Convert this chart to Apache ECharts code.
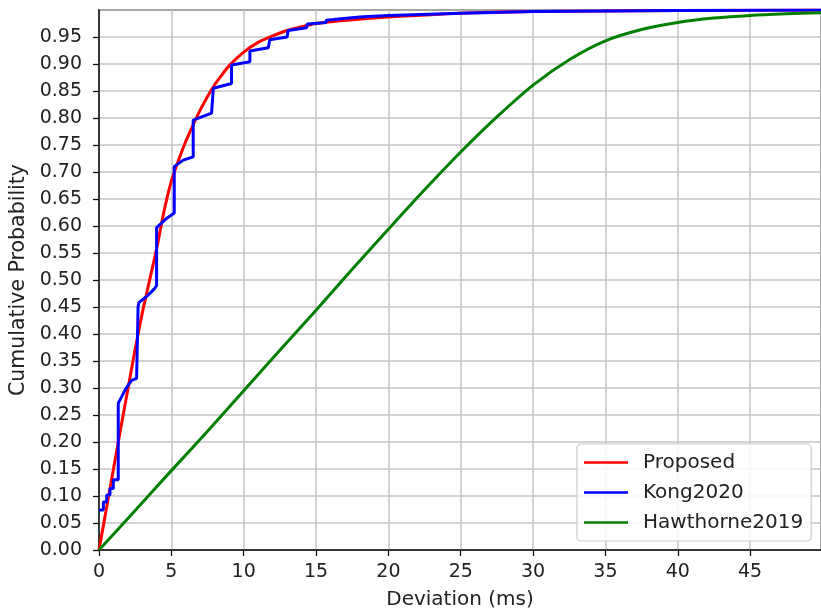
<!DOCTYPE html>
<html><head><meta charset="utf-8">
<script src="https://cdn.jsdelivr.net/npm/echarts@6/dist/echarts.min.js"></script>
<style>html,body{margin:0;padding:0;background:#fff}#c{width:821px;height:611px}</style>
</head><body><div id="c"></div>
<script>
// ---- data ----
const seriesNames = ['Proposed', 'Kong2020', 'Hawthorne2019'];
const yTickLabels = ['0.00','0.05','0.10','0.15','0.20','0.25','0.30','0.35','0.40','0.45','0.50','0.55','0.60','0.65','0.70','0.75','0.80','0.85','0.90','0.95'];
const xTickLabels = ['0','5','10','15','20','25','30','35','40','45'];

const proposedX = [0, 0.5, 1, 1.5, 2, 2.5, 3, 3.5, 4, 4.5, 5, 5.5, 6, 6.5, 7, 7.5, 8, 8.5, 9, 10, 11, 12, 13, 14, 15, 17.5, 20, 25, 30, 35, 40, 49.9];
const proposedY = [0, 0.075, 0.15, 0.225, 0.298, 0.372, 0.44, 0.50, 0.56, 0.628, 0.683, 0.722, 0.757, 0.787, 0.815, 0.84, 0.862, 0.88, 0.897, 0.922, 0.94, 0.952, 0.962, 0.969, 0.975, 0.982, 0.987, 0.994, 0.997, 0.998, 0.999, 1.0];

const kongX = [0, 0.3, 0.3, 0.53, 0.53, 0.76, 0.76, 0.99, 0.99, 1.33, 1.33, 1.57, 1.8, 2.03, 2.26, 2.6, 2.7, 2.7, 2.75, 3.4, 3.87, 3.98, 3.98, 4.67, 5.2, 5.2, 5.82, 6.51, 6.51, 7.78, 7.9, 7.9, 9.16, 9.16, 10.43, 10.43, 11.7, 11.8, 11.8, 13.0, 13.07, 13.07, 14.34, 14.4, 14.4, 15.7, 15.7, 18, 20, 25, 30, 40, 49.9];
const kongY = [0.074, 0.074, 0.089, 0.089, 0.102, 0.102, 0.114, 0.114, 0.13, 0.13, 0.272, 0.284, 0.296, 0.306, 0.314, 0.318, 0.32, 0.45, 0.458, 0.472, 0.485, 0.49, 0.597, 0.614, 0.624, 0.71, 0.722, 0.728, 0.796, 0.809, 0.812, 0.855, 0.864, 0.898, 0.904, 0.924, 0.93, 0.932, 0.945, 0.95, 0.951, 0.962, 0.967, 0.968, 0.974, 0.977, 0.981, 0.987, 0.99, 0.994, 0.997, 0.999, 1.0];

const hawX = [0, 2.5, 5, 7.5, 10, 12.5, 15, 17.5, 20, 22.5, 25, 27.5, 30, 32.5, 35, 37.5, 40, 42.5, 45, 47.5, 49.9];
const hawY = [0, 0.073, 0.147, 0.22, 0.295, 0.37, 0.444, 0.52, 0.594, 0.667, 0.737, 0.802, 0.861, 0.908, 0.943, 0.964, 0.977, 0.985, 0.990, 0.993, 0.995];

const colors = ['#ff0000', '#0000ff', '#008000'];

function pairs(xs, ys) { return xs.map((x, i) => [x, ys[i]]); }

const FONT = 'DejaVu Sans';
const chart = echarts.init(document.getElementById('c'), null, {renderer: 'canvas'});
chart.setOption({
  animation: false,
  backgroundColor: '#fff',
  grid: {left: 99, top: 10, right: 0, bottom: 61, outerBoundsMode: 'none', containLabel: false,
         show: true, borderColor: '#111', borderWidth: 1.5, backgroundColor: 'transparent'},
  xAxis: {
    type: 'value', min: 0, max: 49.9, interval: 5,
    name: 'Deviation (ms)', nameLocation: 'middle', nameGap: 40,
    nameTextStyle: {fontFamily: FONT, fontSize: 20, color: '#222'},
    axisLine: {show: true, lineStyle: {color: '#111', width: 1.5}},
    axisTick: {show: true, length: 6, lineStyle: {color: '#111', width: 1.3}},
    axisLabel: {fontFamily: FONT, fontSize: 19, color: '#222', margin: 13, showMaxLabel: false,
      formatter: v => { const i = Math.round(v / 5); return Math.abs(v - i * 5) < 1e-6 && xTickLabels[i] !== undefined ? xTickLabels[i] : ''; }},
    splitLine: {show: true, lineStyle: {color: '#c4c4c4', width: 1.5}}
  },
  yAxis: {
    type: 'value', min: 0, max: 1, interval: 0.05,
    name: 'Cumulative Probability', nameLocation: 'middle', nameGap: 66,
    nameTextStyle: {fontFamily: FONT, fontSize: 20.5, color: '#222'},
    axisLine: {show: true, lineStyle: {color: '#111', width: 1.5}},
    axisTick: {show: true, length: 6, lineStyle: {color: '#111', width: 1.3}},
    axisLabel: {fontFamily: FONT, fontSize: 19, color: '#222', margin: 17, showMaxLabel: false,
      formatter: v => { const i = Math.round(v / 0.05); return yTickLabels[i] !== undefined ? yTickLabels[i] : ''; }},
    splitLine: {show: true, lineStyle: {color: '#c4c4c4', width: 1.5}}
  },
  legend: {
    orient: 'vertical', left: 577, top: 444,
    data: seriesNames.map(n => ({name: n, icon: 'rect'})),
    itemWidth: 44, itemHeight: 2.5, itemGap: 9,
    padding: [8, 8, 8, 7],
    backgroundColor: 'rgba(255,255,255,0.85)', borderColor: '#cccccc', borderWidth: 1.2, borderRadius: 4,
    textStyle: {fontFamily: FONT, fontSize: 20, color: '#222', padding: [0, 0, 0, 10], lineHeight: 21}
  },
  series: [
    {name: seriesNames[0], type: 'line', data: pairs(proposedX, proposedY), showSymbol: false, symbol: 'none',
     smooth: 0.25, color: colors[0], lineStyle: {color: colors[0], width: 3}, z: 2},
    {name: seriesNames[1], type: 'line', data: pairs(kongX, kongY), showSymbol: false, symbol: 'none',
     color: colors[1], lineStyle: {color: colors[1], width: 3}, z: 3},
    {name: seriesNames[2], type: 'line', data: pairs(hawX, hawY), showSymbol: false, symbol: 'none',
     smooth: 0.25, color: colors[2], lineStyle: {color: colors[2], width: 3}, z: 4}
  ]
});
</script>
</body></html>
